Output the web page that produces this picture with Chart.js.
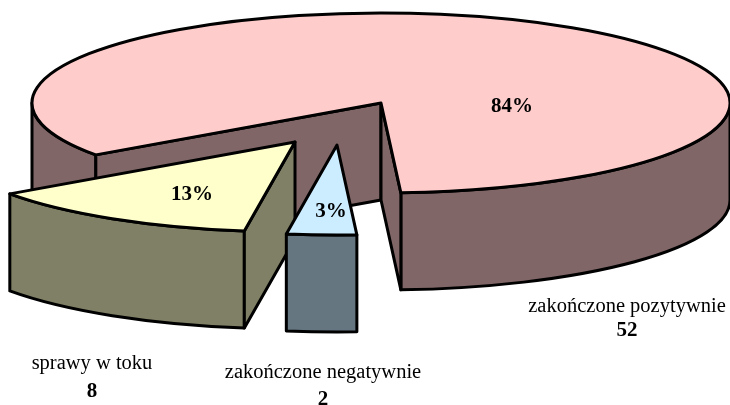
<!DOCTYPE html>
<html>
<head>
<meta charset="utf-8">
<style>
  html, body { margin: 0; padding: 0; background: #fff; }
  canvas { display: block; }
</style>
<script src="https://cdn.jsdelivr.net/npm/chart.js@4/dist/chart.umd.js"></script>
</head>
<body>
<canvas id="chart" width="730" height="405"></canvas>
<script>
const categories = ['zakończone pozytywnie', 'zakończone negatywnie', 'sprawy w toku'];
const counts = [52, 2, 8];

const TOP_COLORS = ['#FFCCCC', '#CCECFF', '#FFFFCC'];
const WALL_COLORS = ['#806666', '#667680', '#808066'];

// wygląd 3D: spłaszczenie elipsy, wysokość ścianek, przesunięcie wyciętych kawałków
const RADIUS = 349;
const TILT = 90 / 349;
const DEPTH = 97;
const SHIFT = [[0, 0], [-44, 42], [-86, 39]];
const PERCENT_POS = [[512, 107], [331, 212], [192, 195]];
const LABEL_POS = [[627, 307], [323, 373], [92, 364]];
const VALUE_POS = [[627, 331], [323, 400], [92, 392]];
const SERIF = '"Liberation Serif", "Times New Roman", serif';

function wallPath(ctx, cx, cy, a, b) {
  ctx.beginPath();
  ctx.ellipse(cx, cy, RADIUS, RADIUS * TILT, 0, a, b);
  ctx.ellipse(cx, cy + DEPTH, RADIUS, RADIUS * TILT, 0, b, a, true);
  ctx.closePath();
}

function cutWallPath(ctx, cx, cy, a) {
  const ex = cx + Math.cos(a) * RADIUS;
  const ey = cy + Math.sin(a) * RADIUS * TILT;
  ctx.beginPath();
  ctx.moveTo(cx, cy);
  ctx.lineTo(ex, ey);
  ctx.lineTo(ex, ey + DEPTH);
  ctx.lineTo(cx, cy + DEPTH);
  ctx.closePath();
}

function paint(ctx, color) {
  ctx.fillStyle = color;
  ctx.fill();
  ctx.stroke();
}

const pie3d = {
  id: 'pie3d',
  beforeDatasetsDraw(chart) {
    const ctx = chart.ctx;
    const arcs = chart.getDatasetMeta(0).data;
    ctx.save();
    ctx.lineWidth = 3;
    ctx.lineJoin = 'round';
    ctx.strokeStyle = '#000';

    // kolejność od tyłu: duży kawałek, potem wysunięte
    [0, 2, 1].forEach((i) => {
      const el = arcs[i];
      const cx = el.x + SHIFT[i][0];
      const cy = el.y + SHIFT[i][1];
      const start = el.startAngle;
      const end = el.endAngle;

      for (let n = -1; n < 3; n++) {
        const lo = Math.max(start, n * 2 * Math.PI);
        const hi = Math.min(end, n * 2 * Math.PI + Math.PI);
        if (hi > lo) {
          wallPath(ctx, cx, cy, lo, hi);
          paint(ctx, WALL_COLORS[i]);
        }
      }
      if (Math.cos(start) < 0) {
        cutWallPath(ctx, cx, cy, start);
        paint(ctx, WALL_COLORS[i]);
      }
      if (Math.cos(end) > 0) {
        cutWallPath(ctx, cx, cy, end);
        paint(ctx, WALL_COLORS[i]);
      }

      ctx.save();
      ctx.translate(cx, cy);
      ctx.scale(1, TILT);
      ctx.translate(-el.x, -el.y);
      el.draw(ctx);
      ctx.restore();

      ctx.beginPath();
      ctx.moveTo(cx, cy);
      ctx.ellipse(cx, cy, RADIUS, RADIUS * TILT, 0, start, end);
      ctx.closePath();
      ctx.stroke();
    });
    ctx.restore();
    return false;
  },
  afterDraw(chart) {
    const ctx = chart.ctx;
    const total = counts.reduce((a, b) => a + b, 0);
    ctx.save();
    ctx.fillStyle = '#000';
    ctx.textAlign = 'center';
    ctx.textBaseline = 'middle';
    counts.forEach((v, i) => {
      ctx.font = 'bold 21px ' + SERIF;
      ctx.fillText(Math.round(v / total * 100) + '%', PERCENT_POS[i][0], PERCENT_POS[i][1]);
      ctx.fillText(String(v), VALUE_POS[i][0], VALUE_POS[i][1]);
      ctx.font = '20.5px ' + SERIF;
      ctx.fillText(categories[i], LABEL_POS[i][0], LABEL_POS[i][1]);
    });
    ctx.restore();
  },
};

new Chart(document.getElementById('chart'), {
  type: 'pie',
  data: {
    labels: categories,
    datasets: [{
      data: counts,
      backgroundColor: TOP_COLORS,
      borderWidth: 0,
      radius: RADIUS,
      rotation: 234.8,
    }],
  },
  options: {
    responsive: false,
    animation: false,
    layout: { padding: { left: 32, bottom: 199 } },
    plugins: { legend: { display: false }, tooltip: { enabled: false } },
  },
  plugins: [pie3d],
});
</script>
</body>
</html>
